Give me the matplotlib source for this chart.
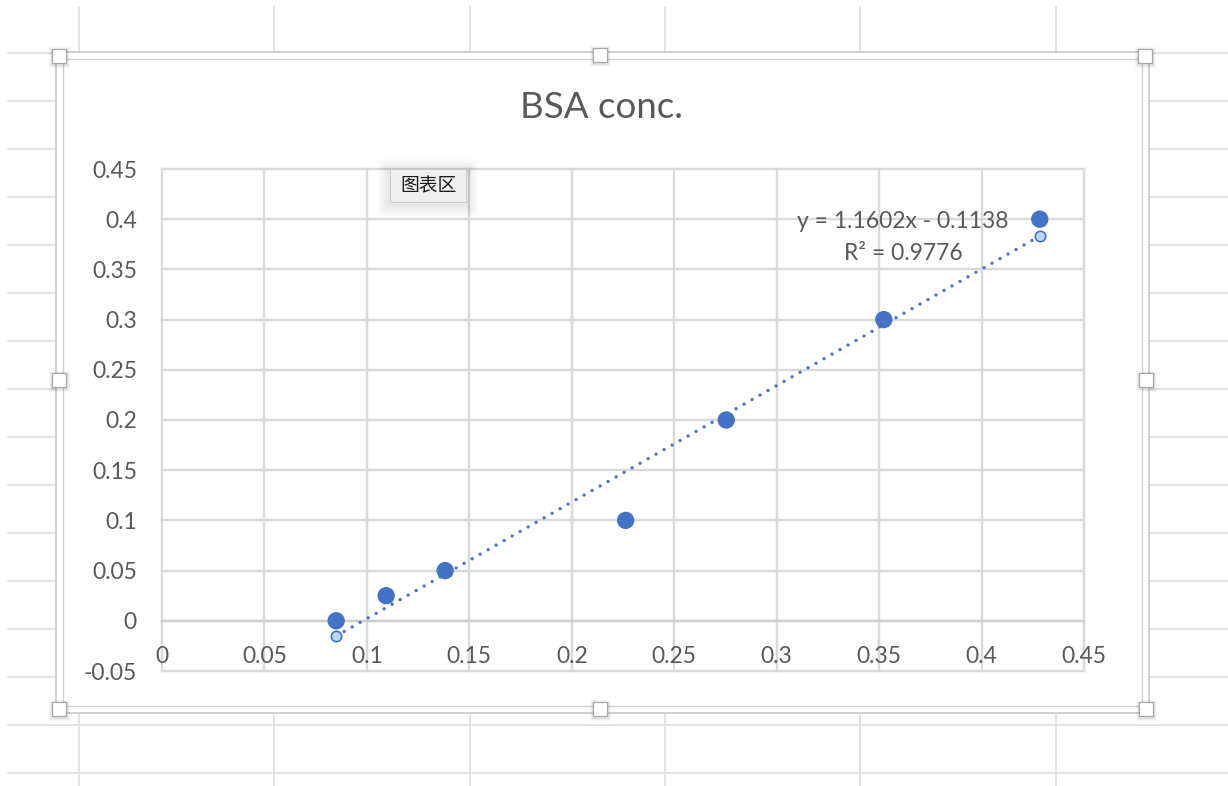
import matplotlib
matplotlib.use("Agg")
import matplotlib.pyplot as plt
from matplotlib.patches import Rectangle
import numpy as np

plt.rcParams['font.family'] = ['Lato', 'DejaVu Sans']

# Standard curve data: absorbance reading vs BSA concentration
absorbance = [0.085, 0.1094, 0.1382, 0.2263, 0.2754, 0.3523, 0.4284]
bsa_conc = [0.0, 0.025, 0.05, 0.1, 0.2, 0.3, 0.4]

# Linear trendline reported for the series
slope = 1.1602
intercept = -0.1138
r_squared = 0.9776

x_ticks = [0, 0.05, 0.1, 0.15, 0.2, 0.25, 0.3, 0.35, 0.4, 0.45]
x_tick_labels = ["0", "0.05", "0.1", "0.15", "0.2", "0.25", "0.3", "0.35", "0.4", "0.45"]
y_ticks = [-0.05, 0, 0.05, 0.1, 0.15, 0.2, 0.25, 0.3, 0.35, 0.4, 0.45]
y_tick_labels = ["-0.05", "0", "0.05", "0.1", "0.15", "0.2", "0.25", "0.3", "0.35", "0.4", "0.45"]

title = "BSA conc."
tooltip = "图表区"

W, H = 1228, 786
PX = 72 / 100  # points per pixel
TEXT = '#595959'
BLUE = '#4472C4'

fig = plt.figure(figsize=(W / 100, H / 100), dpi=100)
fig.patch.set_facecolor('white')

# Worksheet layer in pixel coordinates
bg = fig.add_axes([0, 0, 1, 1])
bg.set_xlim(0, W)
bg.set_ylim(H, 0)
bg.axis('off')

sheet_line = '#dadada'
for xv in np.arange(79, W, 195.3):
    bg.plot([xv, xv], [7, H], color=sheet_line, lw=1.5 * PX, zorder=1)
for yv in np.arange(53, H, 48):
    bg.plot([8, W], [yv, yv], color=sheet_line, lw=1.5 * PX, zorder=1)

# Chart area with selection frame
bg.add_patch(Rectangle((56, 52), 1093, 661, facecolor='white', edgecolor='none', zorder=2))
bg.add_patch(Rectangle((56, 52), 1093, 661, fill=False, edgecolor='#c6c6c6', lw=1.6 * PX, zorder=3))
bg.add_patch(Rectangle((63, 59), 1079, 647, fill=False, edgecolor='#d2d2d2', lw=1.4 * PX, zorder=3))

handles = [(59, 56), (600, 55), (1145, 56), (59, 380), (1146, 380),
           (59, 709), (600, 709), (1146, 709)]
for cx, cy in handles:
    for k, a in enumerate([0.05, 0.04, 0.03]):
        s = 15 + 2 * (k + 1)
        bg.add_patch(Rectangle((cx - s / 2, cy - s / 2 + 1), s, s, facecolor='black',
                               edgecolor='none', alpha=a, zorder=4))
    bg.add_patch(Rectangle((cx - 7, cy - 7), 14, 14, facecolor='white',
                           edgecolor='#a8a8a8', lw=1.2 * PX, zorder=5))

bg.text(601, 107, title, ha='center', va='center', fontsize=26.5, color=TEXT, zorder=6)

# Plot area
x0, x1, y0, y1 = 162, 1084, 169, 671
ax = fig.add_axes([x0 / W, (H - y1) / H, (x1 - x0) / W, (y1 - y0) / H])
ax.set_zorder(3)
ax.patch.set_alpha(0)
ax.set_xlim(0, 0.45)
ax.set_ylim(-0.05, 0.45)
ax.set_xticks(x_ticks)
ax.set_xticklabels(x_tick_labels)
ax.set_yticks(y_ticks)
ax.set_yticklabels(y_tick_labels)
ax.grid(True, color='#d9d9d9', lw=2.4 * PX)
ax.set_axisbelow(True)
for side in ['top', 'right', 'left']:
    ax.spines[side].set_visible(False)
ax.spines['bottom'].set_position(('data', 0))
ax.spines['bottom'].set_color('#cfcfcf')
ax.spines['bottom'].set_linewidth(2.4 * PX)
ax.tick_params(axis='both', length=0, labelsize=16.5, labelcolor=TEXT)
ax.tick_params(axis='y', pad=18)
ax.tick_params(axis='x', pad=18)
for gl in ax.get_xgridlines() + ax.get_ygridlines():
    gl.set_clip_on(False)

ax.scatter(absorbance, bsa_conc, s=12.5 ** 2, color=BLUE, edgecolors='none', zorder=5, clip_on=False)

tx = np.array([min(absorbance), max(absorbance)])
ty = slope * tx + intercept
ax.plot(tx, ty, color=BLUE, lw=2.4, linestyle=(0, (0.01, 2.75)),
        dash_capstyle='round', zorder=4)
ax.scatter(tx, ty, s=7.5 ** 2, facecolor='#BDD7EE', edgecolors=BLUE, linewidths=1.2,
           zorder=6, clip_on=False)

# Trendline label, placed in pixel coordinates above the gridlines
sign = '-' if intercept < 0 else '+'
ax.text(903, 221, f"y = {slope:.4f}x {sign} {abs(intercept):.4f}", transform=bg.transData,
        ha='center', va='center', fontsize=16.5, color=TEXT, zorder=7, clip_on=False)
ax.text(903, 253, f"R² = {r_squared:.4f}", transform=bg.transData,
        ha='center', va='center', fontsize=16.5, color=TEXT, zorder=7, clip_on=False)

# Hover tooltip on top of everything
bx, by, bw, bh = 390, 169, 76, 33
for k in range(6):
    g = 2 * (k + 1)
    ax.add_patch(Rectangle((bx - g, by - g + 2), bw + 2 * g, bh + 2 * g, facecolor='black',
                           edgecolor='none', alpha=0.016, zorder=9,
                           transform=bg.transData, clip_on=False))
ax.add_patch(Rectangle((bx, by), bw, bh, facecolor='#eeeeee', edgecolor='#cccccc',
                       lw=1.0 * PX, zorder=10, transform=bg.transData, clip_on=False))
ax.text(bx + bw / 2, by + bh / 2, tooltip, transform=bg.transData, ha='center', va='center',
        fontsize=13.5, color='#1a1a1a', family=['Noto Sans CJK SC', 'DejaVu Sans'],
        zorder=11, clip_on=False)

fig.savefig('out.png', dpi=100, facecolor='white')
